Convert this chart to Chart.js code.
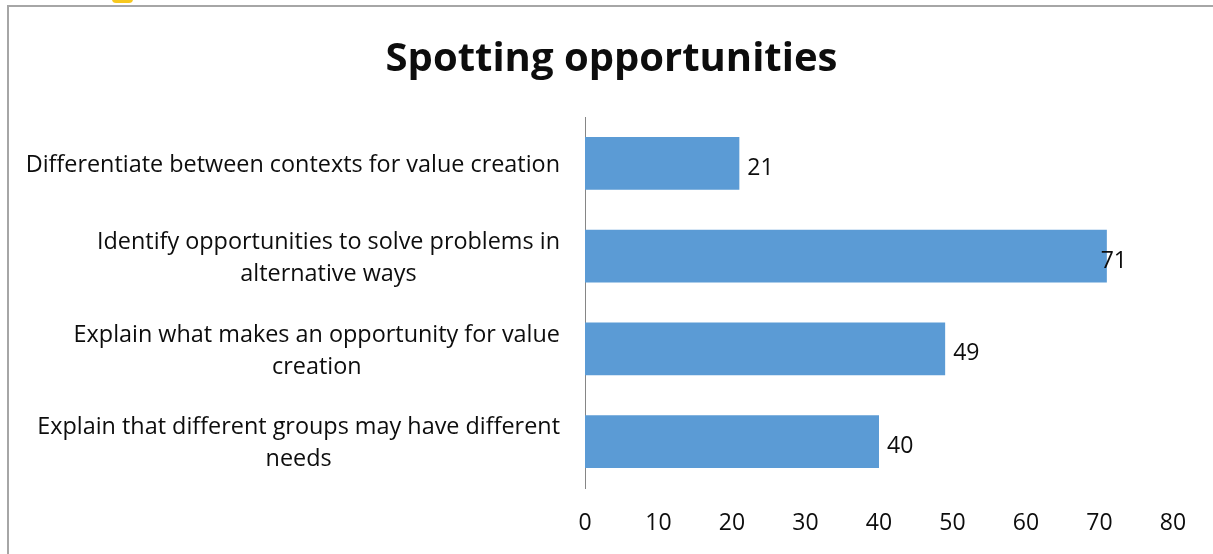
<!DOCTYPE html>
<html>
<head>
<meta charset="utf-8">
<title>Spotting opportunities</title>
<script src="https://cdn.jsdelivr.net/npm/chart.js@4.4.1/dist/chart.umd.min.js"></script>
<style>
  html, body { margin: 0; padding: 0; background: #fff; overflow: hidden; }
  #wrap { position: relative; width: 1213px; height: 554px; }
  #frame { position: absolute; left: 7px; top: 5px; width: 1300px; height: 700px;
           border: 2px solid #a6a6a6; box-sizing: border-box; }
  #tab { position: absolute; left: 112px; top: -6px; width: 21px; height: 9px;
         border-radius: 4px; background: #f7c81e; }
  #chart { position: absolute; left: 0; top: 0; }
</style>
</head>
<body>
<div id="wrap">
  <div id="frame"></div>
  <div id="tab"></div>
  <canvas id="chart" width="1213" height="554"></canvas>
</div>
<script>
// Categories (each label split into its wrapped lines) and scores
const categories = [
  ["Differentiate between contexts for value creation"],
  ["Identify opportunities to solve problems in", "alternative ways"],
  ["Explain what makes an opportunity for value", "creation"],
  ["Explain that different groups may have different", "needs"]
];
const scores = [21, 71, 49, 40];
const axisTicks = [0, 10, 20, 30, 40, 50, 60, 70, 80];

const FONT = "'Open Sans', sans-serif";
const TEXT_COLOR = "#0d0d0d";

// Category labels: each block right-aligned to the axis, lines centred within the block
const categoryLabels = {
  id: "categoryLabels",
  afterDraw(chart) {
    const ctx = chart.ctx;
    const yScale = chart.scales.y;
    const right = chart.chartArea.left - 25;
    const lineGap = 32;
    ctx.save();
    ctx.font = "23.4px " + FONT;
    ctx.fillStyle = TEXT_COLOR;
    ctx.textAlign = "center";
    ctx.textBaseline = "middle";
    categories.forEach((lines, i) => {
      const cy = yScale.getPixelForValue(i) + 2;
      const w = Math.max(...lines.map(l => ctx.measureText(l).width));
      const cx = right - w / 2;
      const y0 = cy - (lines.length - 1) * lineGap / 2;
      lines.forEach((l, j) => ctx.fillText(l, cx, y0 + j * lineGap));
    });
    ctx.restore();
  }
};

// Value labels at the end of each bar, kept clear of the right edge
const valueLabels = {
  id: "valueLabels",
  afterDatasetsDraw(chart) {
    const ctx = chart.ctx;
    const meta = chart.getDatasetMeta(0);
    const limit = chart.chartArea.right - 46;
    ctx.save();
    ctx.font = "23px " + FONT;
    ctx.fillStyle = TEXT_COLOR;
    ctx.textAlign = "left";
    ctx.textBaseline = "middle";
    meta.data.forEach((bar, i) => {
      const txt = String(scores[i]);
      const w = ctx.measureText(txt).width;
      let x = bar.x + 8;
      if (x + w > limit) x = limit - w;
      ctx.fillText(txt, x, bar.y + 5);
    });
    ctx.restore();
  }
};

new Chart(document.getElementById("chart"), {
  type: "bar",
  data: {
    labels: categories,
    datasets: [{
      data: scores,
      backgroundColor: "#5b9bd5",
      borderWidth: 0,
      categoryPercentage: 1,
      barPercentage: 0.571
    }]
  },
  options: {
    indexAxis: "y",
    responsive: false,
    animation: false,
    events: [],
    layout: { padding: { left: 50, right: 40, top: 0, bottom: 0 } },
    plugins: {
      legend: { display: false },
      tooltip: { enabled: false },
      title: {
        display: true,
        text: "Spotting opportunities",
        color: TEXT_COLOR,
        font: { family: FONT, size: 40, weight: "bold", lineHeight: 1.2 },
        padding: { top: 36, bottom: 33 }
      }
    },
    scales: {
      x: {
        min: 0,
        max: 80,
        afterBuildTicks(scale) { scale.ticks = axisTicks.map(v => ({ value: v })); },
        afterFit(scale) { scale.height = 66; },
        grid: { display: false, drawTicks: false },
        border: { display: false },
        ticks: {
          color: TEXT_COLOR,
          font: { family: FONT, size: 23, lineHeight: 1.2 },
          padding: 22,
          maxRotation: 0
        }
      },
      y: {
        afterFit(scale) { scale.width = 535; },
        grid: { display: false, drawTicks: false },
        border: { display: true, color: "#868686", width: 1 },
        ticks: { display: false }
      }
    }
  },
  plugins: [categoryLabels, valueLabels]
});
</script>
</body>
</html>
